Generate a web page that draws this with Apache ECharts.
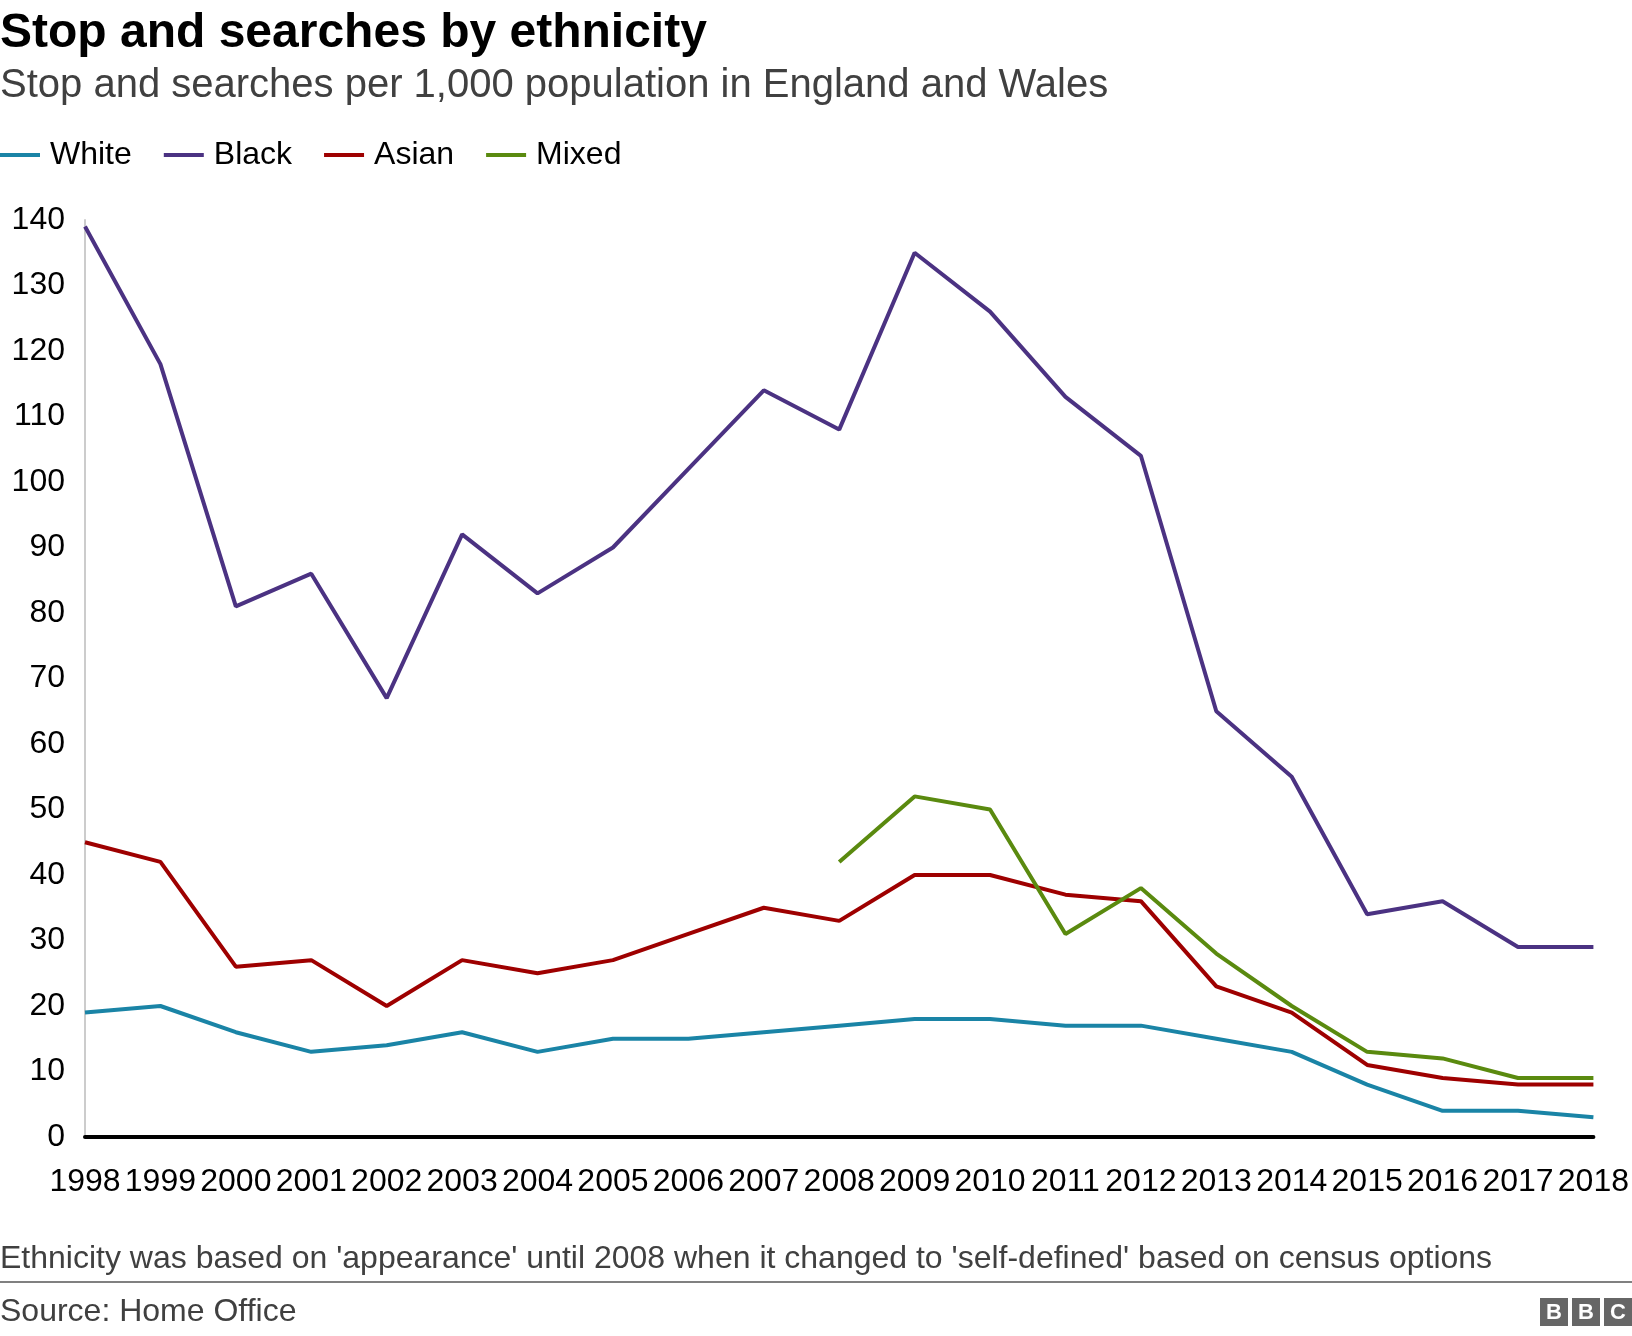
<!DOCTYPE html>
<html><head><meta charset="utf-8">
<script src="https://cdn.jsdelivr.net/npm/echarts@6/dist/echarts.min.js"></script>
<style>html,body{margin:0;padding:0;background:#fff}#c{width:1632px;height:1336px}</style>
</head><body><div id="c"></div>
<script>
const years = ['1998','1999','2000','2001','2002','2003','2004','2005','2006','2007','2008','2009','2010','2011','2012','2013','2014','2015','2016','2017','2018'];
const white = [19,20,16,13,14,16,13,15,15,16,17,18,18,17,17,15,13,8,4,4,3];
const black = [139,118,81,86,67,92,83,90,102,114,108,135,126,113,104,65,55,34,36,29,29];
const asian = [45,42,26,27,20,27,25,27,31,35,33,40,40,37,36,23,19,11,9,8,8];
const mixed = [null,null,null,null,null,null,null,null,null,null,42,52,50,31,38,28,20,13,12,9,9];
const yTicks = {min:0, max:140, interval:10};

const FONT = 'Liberation Sans, Arial, Helvetica, sans-serif';
const chart = echarts.init(document.getElementById('c'), null, {renderer:'canvas'});
function mk(name, data, color){
  return {name, type:'line', data, symbol:'none', smooth:false, connectNulls:false,
    lineStyle:{color, width:4}, itemStyle:{color}, emphasis:{disabled:true}};
}
chart.setOption({
  animation:false,
  backgroundColor:'#fff',
  textStyle:{fontFamily:FONT},
  title:[
    {text:'Stop and searches by ethnicity', left:0, top:10, padding:0,
     textStyle:{fontFamily:FONT, fontSize:48, fontWeight:'bold', color:'#000', lineHeight:48}},
    {text:'Stop and searches per 1,000 population in England and Wales', left:0, top:66, padding:0,
     textStyle:{fontFamily:FONT, fontSize:40, fontWeight:'normal', color:'#404040', lineHeight:40}},
    {text:"Ethnicity was based on 'appearance' until 2008 when it changed to 'self-defined' based on census options", left:0, top:1243, padding:0,
     textStyle:{fontFamily:FONT, fontSize:32, fontWeight:'normal', color:'#404040', lineHeight:32}},
    {text:'Source: Home Office', left:0, top:1296, padding:0,
     textStyle:{fontFamily:FONT, fontSize:32, fontWeight:'normal', color:'#404040', lineHeight:32}}
  ],
  legend:{
    left:0, top:139, padding:0, icon:'rect', itemWidth:40, itemHeight:4, itemGap:32,
    textStyle:{fontFamily:FONT, fontSize:32, color:'#000', lineHeight:32, padding:[0,0,0,5]},
    data:['White','Black','Asian','Mixed'], selectedMode:false
  },
  grid:{left:85, right:36, top:220, bottom:1336-1137, containLabel:false},
  xAxis:{
    type:'category', data:years, boundaryGap:false,
    axisLine:{lineStyle:{color:'#000', width:4}},
    axisTick:{show:false},
    axisLabel:{interval:0, fontFamily:FONT, fontSize:32, color:'#000', margin:29},
    splitLine:{show:false}
  },
  yAxis:{
    type:'value', min:yTicks.min, max:yTicks.max, interval:yTicks.interval,
    axisLine:{show:true, lineStyle:{color:'#cccccc', width:2}},
    axisTick:{show:false},
    axisLabel:{fontFamily:FONT, fontSize:32, color:'#000', margin:20},
    splitLine:{show:false}
  },
  graphic:[
    {type:'line', shape:{x1:0, y1:1282, x2:1632, y2:1282}, style:{stroke:'#808080', lineWidth:2}},
    {type:'group', left:1540, top:1298, children:[
      {type:'rect', shape:{x:0, y:0, width:28, height:28}, style:{fill:'#666'}},
      {type:'rect', shape:{x:32, y:0, width:28, height:28}, style:{fill:'#666'}},
      {type:'rect', shape:{x:64, y:0, width:28, height:28}, style:{fill:'#666'}},
      {type:'text', style:{x:14, y:15, text:'B', fill:'#fff', font:'bold 22px '+FONT, textAlign:'center', textVerticalAlign:'middle'}},
      {type:'text', style:{x:46, y:15, text:'B', fill:'#fff', font:'bold 22px '+FONT, textAlign:'center', textVerticalAlign:'middle'}},
      {type:'text', style:{x:78, y:15, text:'C', fill:'#fff', font:'bold 22px '+FONT, textAlign:'center', textVerticalAlign:'middle'}}
    ]}
  ],
  series:[
    mk('White', white, '#1a84a6'),
    mk('Black', black, '#4b3282'),
    mk('Asian', asian, '#9e0000'),
    mk('Mixed', mixed, '#5a8a0f')
  ]
});
</script></body></html>
